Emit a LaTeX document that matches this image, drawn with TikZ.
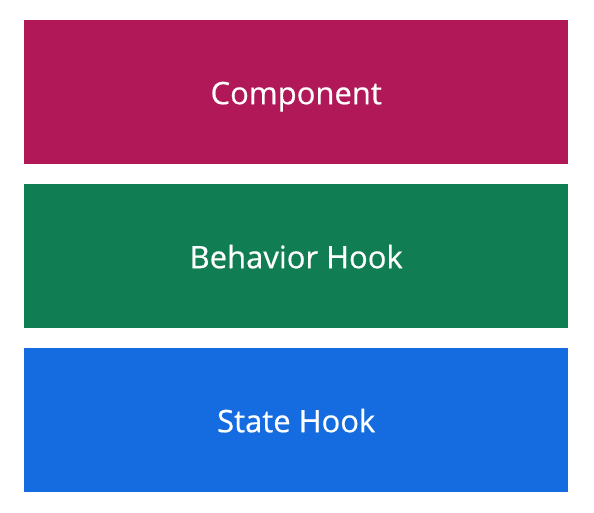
\documentclass[tikz,border=0pt]{standalone}
\usepackage{fontspec}
\setmainfont[FakeBold=0.5]{Open Sans}
\definecolor{compcol}{HTML}{B11858}
\definecolor{behavcol}{HTML}{107D52}
\definecolor{statecol}{HTML}{146CE0}
\begin{document}
\begin{tikzpicture}[x=1pt,y=-1pt,
  layer/.style={draw=none, minimum width=544pt, minimum height=144pt,
    inner sep=0pt, anchor=north west, text=white,
    text height=24pt, text depth=0pt,
    font=\fontsize{31}{36}\selectfont}]
\useasboundingbox[fill=white] (0,0) rectangle (594,512);
\node[layer, fill=compcol]  (component) at (24,20)  {Component};
\node[layer, fill=behavcol] (behavior)  at (24,184) {Behavior Hook};
\node[layer, fill=statecol] (state)     at (24,348) {State Hook};
\end{tikzpicture}
\end{document}
